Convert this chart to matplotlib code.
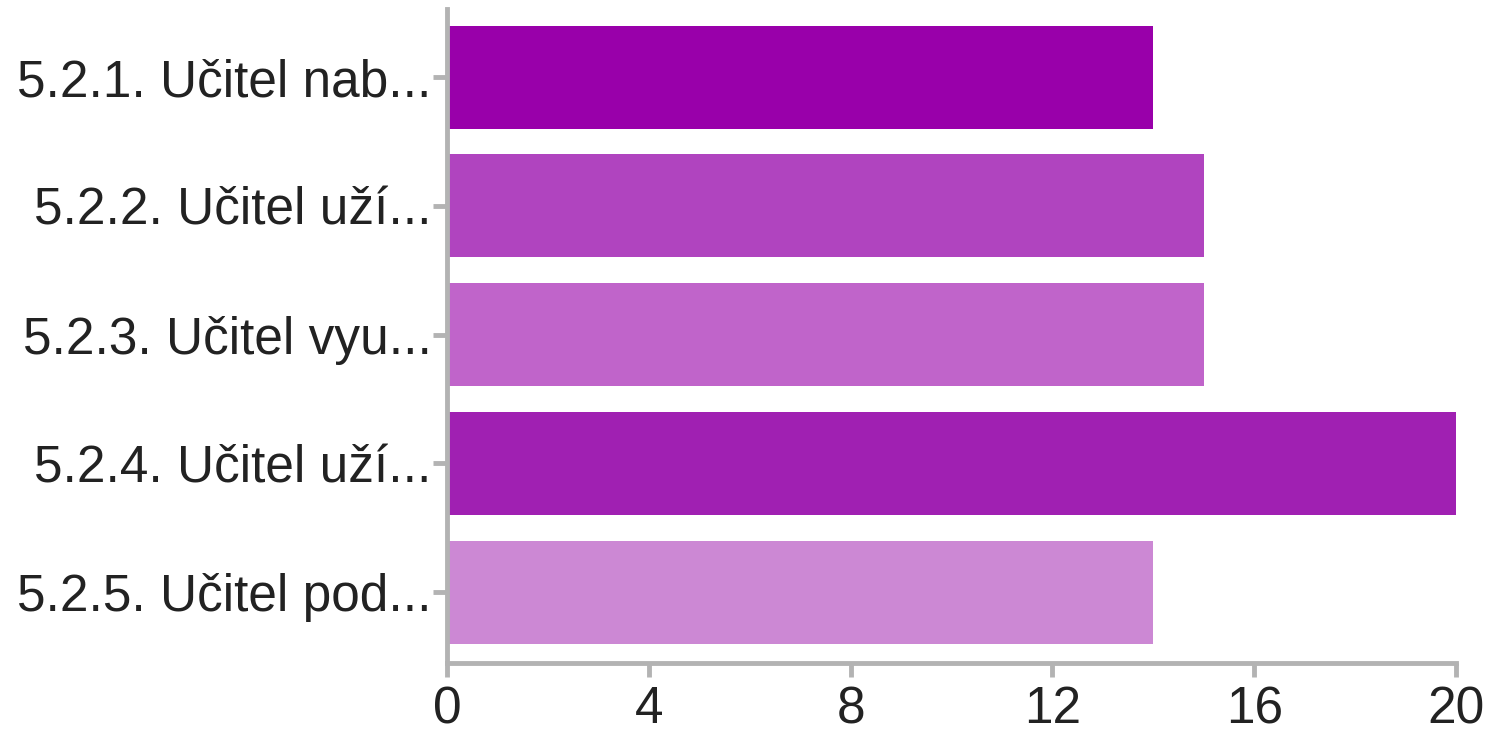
import matplotlib.pyplot as plt

# Data
labels = ['5.2.1. Učitel nab...', '5.2.2. Učitel uží...', '5.2.3. Učitel vyu...',
          '5.2.4. Učitel uží...', '5.2.5. Učitel pod...']
values = [14, 15, 15, 20, 14]
colors = ['#9900aa', '#b044bf', '#c064ca', '#a020b2', '#cc88d4']
xticks = [0, 4, 8, 12, 16, 20]

plt.rcParams['font.family'] = ['Liberation Sans', 'DejaVu Sans']

fig = plt.figure(figsize=(14.87, 7.38), dpi=100)
ax = fig.add_axes([447 / 1487, 1 - 663 / 738, (1456 - 447) / 1487, (663 - 9) / 738])

pos = list(range(len(labels)))
ax.barh(pos, values, height=0.8, color=colors)

ax.set_xlim(0, 20)
ax.set_ylim(4.55, -0.53)
ax.set_xticks(xticks)
ax.set_yticks(pos)
ax.set_yticklabels(labels)

for side in ['top', 'right']:
    ax.spines[side].set_visible(False)
for side in ['left', 'bottom']:
    ax.spines[side].set_color('#b3b3b3')
    ax.spines[side].set_linewidth(3.5)

ax.tick_params(axis='both', colors='#b3b3b3', labelcolor='#222222',
               labelsize=37, width=3.5, length=10)
ax.tick_params(axis='y', pad=1)
ax.tick_params(axis='x', pad=6)

fig.savefig('out.png', dpi=100)
